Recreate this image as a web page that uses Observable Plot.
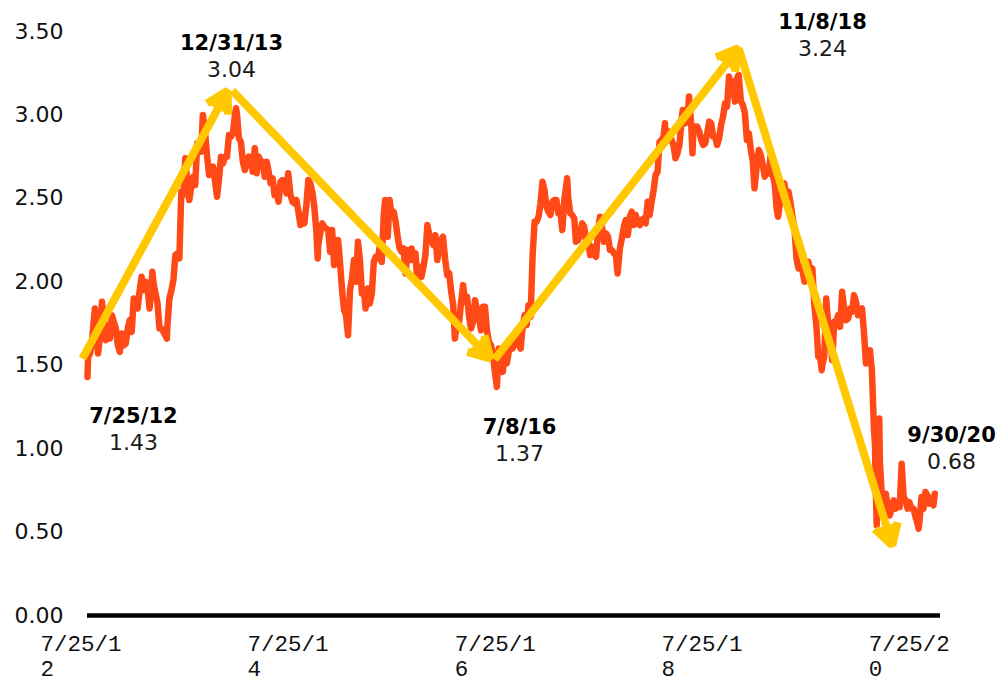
<!DOCTYPE html>
<html><head><meta charset="utf-8">
<script src="https://cdn.jsdelivr.net/npm/d3@7"></script>
<script src="https://cdn.jsdelivr.net/npm/@observablehq/plot@0.6"></script>
<style>
html,body{margin:0;padding:0;background:#fff;}
#chart svg{display:block;}
</style></head><body><div id="chart"></div>
<script>
// 10-year yield (weekly-ish, plus turning points)
const y2012 = [["2012-07-25",1.43],["2012-07-27",1.55],["2012-08-03",1.57],["2012-08-10",1.65],["2012-08-20",1.84],["2012-08-24",1.69],["2012-08-31",1.57],["2012-09-07",1.67],["2012-09-14",1.88],["2012-09-21",1.77],["2012-09-28",1.65],["2012-10-05",1.74],["2012-10-12",1.66],["2012-10-19",1.80],["2012-10-26",1.76],["2012-11-02",1.72],["2012-11-09",1.62],["2012-11-16",1.58],["2012-11-23",1.69],["2012-11-30",1.62],["2012-12-07",1.63],["2012-12-14",1.72],["2012-12-21",1.77],["2012-12-28",1.70]];
const y2013 = [["2013-01-04",1.90],["2013-01-11",1.87],["2013-01-18",1.84],["2013-01-25",1.95],["2013-02-01",2.03],["2013-02-08",1.95],["2013-02-15",2.00],["2013-02-22",1.96],["2013-03-01",1.84],["2013-03-11",2.06],["2013-03-15",1.99],["2013-03-22",1.93],["2013-03-29",1.87],["2013-04-05",1.72],["2013-04-12",1.72],["2013-04-19",1.70],["2013-05-01",1.66],["2013-05-03",1.74],["2013-05-10",1.90],["2013-05-17",1.95],["2013-05-24",2.01],["2013-05-31",2.16],["2013-06-07",2.17],["2013-06-14",2.14],["2013-06-21",2.54],["2013-06-28",2.52],["2013-07-05",2.74],["2013-07-12",2.59],["2013-07-19",2.49],["2013-07-26",2.57],["2013-08-02",2.63],["2013-08-09",2.58],["2013-08-16",2.83],["2013-08-23",2.82],["2013-08-30",2.78],["2013-09-05",3.00],["2013-09-13",2.89],["2013-09-20",2.75],["2013-09-27",2.64],["2013-10-04",2.65],["2013-10-11",2.69],["2013-10-18",2.60],["2013-10-25",2.51],["2013-11-01",2.62],["2013-11-08",2.75],["2013-11-15",2.71],["2013-11-22",2.75],["2013-11-29",2.75],["2013-12-06",2.88],["2013-12-13",2.87],["2013-12-20",2.89],["2013-12-27",3.00],["2013-12-31",3.04]];
const y2014 = [["2014-01-03",3.01],["2014-01-10",2.86],["2014-01-17",2.84],["2014-01-24",2.72],["2014-01-31",2.67],["2014-02-07",2.71],["2014-02-14",2.75],["2014-02-21",2.74],["2014-02-28",2.66],["2014-03-07",2.80],["2014-03-14",2.65],["2014-03-21",2.75],["2014-03-28",2.72],["2014-04-04",2.72],["2014-04-11",2.63],["2014-04-18",2.72],["2014-04-25",2.66],["2014-05-02",2.59],["2014-05-09",2.62],["2014-05-16",2.52],["2014-05-23",2.53],["2014-05-30",2.48],["2014-06-06",2.60],["2014-06-13",2.61],["2014-06-20",2.60],["2014-06-27",2.53],["2014-07-03",2.65],["2014-07-11",2.52],["2014-07-18",2.48],["2014-07-25",2.47],["2014-08-01",2.49],["2014-08-08",2.42],["2014-08-15",2.34],["2014-08-22",2.40],["2014-08-29",2.35],["2014-09-05",2.46],["2014-09-12",2.61],["2014-09-19",2.59],["2014-09-26",2.54],["2014-10-03",2.45],["2014-10-10",2.31],["2014-10-15",2.14],["2014-10-17",2.22],["2014-10-24",2.29],["2014-10-31",2.35],["2014-11-07",2.33],["2014-11-14",2.32],["2014-11-21",2.31],["2014-11-28",2.18],["2014-12-05",2.31],["2014-12-12",2.10],["2014-12-19",2.17],["2014-12-26",2.25]];
const y2015 = [["2015-01-02",2.11],["2015-01-09",1.95],["2015-01-16",1.83],["2015-01-23",1.80],["2015-01-30",1.68],["2015-02-06",1.95],["2015-02-13",2.02],["2015-02-20",2.13],["2015-02-27",2.00],["2015-03-06",2.24],["2015-03-13",2.13],["2015-03-20",1.93],["2015-03-27",1.95],["2015-04-02",1.84],["2015-04-10",1.96],["2015-04-17",1.87],["2015-04-24",1.93],["2015-05-01",2.12],["2015-05-08",2.15],["2015-05-15",2.14],["2015-05-22",2.21],["2015-05-29",2.12],["2015-06-05",2.40],["2015-06-10",2.49],["2015-06-12",2.39],["2015-06-19",2.27],["2015-06-26",2.49],["2015-07-02",2.40],["2015-07-10",2.42],["2015-07-17",2.36],["2015-07-24",2.27],["2015-07-31",2.20],["2015-08-07",2.18],["2015-08-14",2.20],["2015-08-21",2.05],["2015-08-28",2.19],["2015-09-04",2.13],["2015-09-11",2.20],["2015-09-18",2.13],["2015-09-25",2.17],["2015-10-02",1.99],["2015-10-09",2.09],["2015-10-16",2.03],["2015-10-23",2.09],["2015-10-30",2.16],["2015-11-06",2.34],["2015-11-13",2.28],["2015-11-20",2.26],["2015-11-27",2.22],["2015-12-04",2.28],["2015-12-11",2.13],["2015-12-18",2.20],["2015-12-24",2.25],["2015-12-31",2.27]];
const y2016 = [["2016-01-08",2.13],["2016-01-15",2.04],["2016-01-22",2.05],["2016-01-29",1.94],["2016-02-05",1.86],["2016-02-11",1.66],["2016-02-19",1.76],["2016-02-26",1.76],["2016-03-04",1.88],["2016-03-11",1.98],["2016-03-18",1.88],["2016-03-25",1.91],["2016-04-01",1.79],["2016-04-08",1.72],["2016-04-15",1.76],["2016-04-22",1.89],["2016-04-29",1.83],["2016-05-06",1.79],["2016-05-13",1.71],["2016-05-20",1.85],["2016-05-27",1.85],["2016-06-03",1.71],["2016-06-10",1.64],["2016-06-17",1.62],["2016-06-24",1.57],["2016-07-01",1.46],["2016-07-08",1.37],["2016-07-15",1.60],["2016-07-22",1.57],["2016-07-29",1.46],["2016-08-05",1.59],["2016-08-12",1.51],["2016-08-19",1.58],["2016-08-26",1.63],["2016-09-02",1.60],["2016-09-09",1.67],["2016-09-16",1.70],["2016-09-23",1.62],["2016-09-30",1.60],["2016-10-07",1.73],["2016-10-14",1.80],["2016-10-21",1.74],["2016-10-28",1.86],["2016-11-04",1.79],["2016-11-11",2.15],["2016-11-18",2.36],["2016-11-25",2.36],["2016-12-02",2.39],["2016-12-09",2.47],["2016-12-16",2.60],["2016-12-23",2.55],["2016-12-30",2.45]];
const y2017 = [["2017-01-06",2.42],["2017-01-13",2.40],["2017-01-20",2.48],["2017-01-27",2.49],["2017-02-03",2.49],["2017-02-10",2.41],["2017-02-17",2.42],["2017-02-24",2.31],["2017-03-03",2.49],["2017-03-13",2.62],["2017-03-17",2.50],["2017-03-24",2.41],["2017-03-31",2.40],["2017-04-07",2.38],["2017-04-13",2.24],["2017-04-21",2.25],["2017-04-28",2.29],["2017-05-05",2.35],["2017-05-12",2.33],["2017-05-19",2.24],["2017-05-26",2.25],["2017-06-02",2.16],["2017-06-09",2.21],["2017-06-16",2.16],["2017-06-23",2.15],["2017-06-30",2.31],["2017-07-07",2.39],["2017-07-14",2.33],["2017-07-21",2.24],["2017-07-28",2.29],["2017-08-04",2.27],["2017-08-11",2.19],["2017-08-18",2.19],["2017-08-25",2.17],["2017-09-01",2.16],["2017-09-07",2.05],["2017-09-15",2.20],["2017-09-22",2.26],["2017-09-29",2.33],["2017-10-06",2.37],["2017-10-13",2.28],["2017-10-20",2.39],["2017-10-27",2.42],["2017-11-03",2.34],["2017-11-10",2.40],["2017-11-17",2.35],["2017-11-24",2.34],["2017-12-01",2.37],["2017-12-08",2.38],["2017-12-15",2.35],["2017-12-22",2.48],["2017-12-29",2.40]];
const y2018 = [["2018-01-05",2.48],["2018-01-12",2.55],["2018-01-19",2.64],["2018-01-26",2.66],["2018-02-02",2.84],["2018-02-09",2.85],["2018-02-16",2.87],["2018-02-21",2.95],["2018-02-23",2.88],["2018-03-02",2.86],["2018-03-09",2.90],["2018-03-16",2.85],["2018-03-23",2.82],["2018-03-30",2.74],["2018-04-06",2.77],["2018-04-13",2.82],["2018-04-20",2.96],["2018-04-25",3.03],["2018-04-27",2.96],["2018-05-04",2.95],["2018-05-11",2.97],["2018-05-17",3.11],["2018-05-25",2.93],["2018-05-29",2.77],["2018-06-01",2.89],["2018-06-08",2.93],["2018-06-15",2.93],["2018-06-22",2.90],["2018-06-29",2.85],["2018-07-06",2.82],["2018-07-13",2.83],["2018-07-20",2.89],["2018-07-27",2.96],["2018-08-03",2.95],["2018-08-10",2.87],["2018-08-17",2.87],["2018-08-24",2.82],["2018-08-31",2.86],["2018-09-07",2.94],["2018-09-14",2.99],["2018-09-21",3.07],["2018-09-28",3.05],["2018-10-05",3.23],["2018-10-12",3.15],["2018-10-19",3.20],["2018-10-26",3.08],["2018-11-02",3.22],["2018-11-08",3.24],["2018-11-16",3.08],["2018-11-23",3.06],["2018-11-30",3.01],["2018-12-07",2.85],["2018-12-14",2.89],["2018-12-21",2.79],["2018-12-28",2.72]];
const y2019 = [["2019-01-03",2.56],["2019-01-11",2.70],["2019-01-18",2.79],["2019-01-25",2.76],["2019-02-01",2.70],["2019-02-08",2.63],["2019-02-15",2.66],["2019-02-22",2.65],["2019-03-01",2.76],["2019-03-08",2.64],["2019-03-15",2.59],["2019-03-22",2.44],["2019-03-27",2.39],["2019-04-05",2.50],["2019-04-12",2.56],["2019-04-18",2.59],["2019-04-26",2.50],["2019-05-03",2.54],["2019-05-10",2.47],["2019-05-17",2.39],["2019-05-24",2.32],["2019-05-31",2.14],["2019-06-07",2.08],["2019-06-14",2.09],["2019-06-21",2.07],["2019-06-28",2.00],["2019-07-05",2.04],["2019-07-12",2.12],["2019-07-19",2.05],["2019-07-26",2.08],["2019-08-02",1.86],["2019-08-09",1.74],["2019-08-16",1.55],["2019-08-23",1.54],["2019-08-28",1.47],["2019-08-30",1.50],["2019-09-06",1.55],["2019-09-13",1.90],["2019-09-20",1.74],["2019-09-27",1.69],["2019-10-04",1.53],["2019-10-11",1.76],["2019-10-18",1.76],["2019-10-25",1.80],["2019-11-01",1.73],["2019-11-08",1.94],["2019-11-15",1.84],["2019-11-22",1.77],["2019-11-29",1.78],["2019-12-06",1.84],["2019-12-13",1.82],["2019-12-20",1.92],["2019-12-27",1.88]];
const y2020 = [["2020-01-03",1.80],["2020-01-10",1.83],["2020-01-17",1.84],["2020-01-24",1.70],["2020-01-31",1.51],["2020-02-07",1.59],["2020-02-14",1.59],["2020-02-21",1.47],["2020-02-28",1.13],["2020-03-03",1.02],["2020-03-06",0.74],["2020-03-09",0.54],["2020-03-12",0.88],["2020-03-16",0.73],["2020-03-18",1.18],["2020-03-20",0.92],["2020-03-27",0.72],["2020-04-03",0.62],["2020-04-10",0.73],["2020-04-17",0.65],["2020-04-24",0.60],["2020-05-01",0.64],["2020-05-08",0.69],["2020-05-15",0.64],["2020-05-22",0.66],["2020-05-29",0.65],["2020-06-05",0.91],["2020-06-12",0.71],["2020-06-19",0.69],["2020-06-26",0.64],["2020-07-02",0.68],["2020-07-10",0.64],["2020-07-17",0.64],["2020-07-24",0.59],["2020-07-31",0.55],["2020-08-04",0.52],["2020-08-07",0.57],["2020-08-14",0.71],["2020-08-21",0.64],["2020-08-28",0.74],["2020-09-04",0.72],["2020-09-11",0.67],["2020-09-18",0.70],["2020-09-25",0.66],["2020-09-30",0.73]];

const xDomain = ["2012-07-25","2020-10-20"];
const xTickDates = ["2012-07-25","2014-07-25","2016-07-25","2018-07-25","2020-07-25"];
const xTickLabels = ["7/25/1\n2","7/25/1\n4","7/25/1\n6","7/25/1\n8","7/25/2\n0"];
const yTicks = [0,0.5,1,1.5,2,2.5,3,3.5];
const yTickLabels = ["0.00","0.50","1.00","1.50","2.00","2.50","3.00","3.50"];

// trend arrows (start date/value -> end date/value)
const arrowFromDates = ["2012-07-07","2013-12-18","2016-06-30","2018-11-08"];
const arrowFromVals  = [1.54,3.145,1.534,3.40];
const arrowToDates   = ["2013-12-01","2016-06-15","2018-11-07","2020-05-03"];
const arrowToVals    = [3.145,1.54,3.40,0.42];

// annotations
const annDates  = ["2013-01-03","2013-12-15","2016-09-26","2019-08-31","2020-11-28"];
const annLabels = ["7/25/12","12/31/13","7/8/16","11/8/18","9/30/20"];
const annValues = ["1.43","3.04","1.37","3.24","0.68"];
const annY      = [1.156,3.391,1.090,3.517,1.037];

const parse = d3.utcParse("%Y-%m-%d");
const series = [...y2012,...y2013,...y2014,...y2015,...y2016,...y2017,...y2018,...y2019,...y2020]
  .map(([d,v]) => ({date: parse(d), value: v}));
const arrows = arrowFromDates.map((d,i) => ({x1: parse(d), y1: arrowFromVals[i], x2: parse(arrowToDates[i]), y2: arrowToVals[i]}));
const anns = annDates.map((d,i) => ({date: parse(d), y: annY[i], label: annLabels[i], value: annValues[i]}));
const xLabelMap = new Map(xTickDates.map((d,i) => [+parse(d), xTickLabels[i]]));
const yLabelMap = new Map(yTicks.map((v,i) => [v, yTickLabels[i]]));

const chart = Plot.plot({
  width: 999, height: 684,
  marginLeft: 87, marginRight: 59, marginTop: 31, marginBottom: 69,
  x: {type: "utc", domain: xDomain.map(parse)},
  y: {domain: [0, 3.5]},
  style: {fontFamily: "DejaVu Sans", background: "#fff", color: "#000", overflow: "visible"},
  marks: [
    Plot.axisY(yTicks, {tickSize: 0, tickPadding: 24, fontSize: 22, fill: "#111", tickFormat: v => yLabelMap.get(v)}),
    Plot.axisX(xTickDates.map(parse), {tickSize: 0, tickPadding: 18, fontSize: 22.5, fontFamily: "Liberation Mono", fill: "#111",
      textAnchor: "start", dx: -47, lineHeight: 1.1, tickFormat: d => xLabelMap.get(+d)}),
    Plot.ruleY([0], {stroke: "#000", strokeWidth: 4.5}),
    Plot.line(series, {x: "date", y: "value", stroke: "#FF4A17", strokeWidth: 6.5, strokeLinejoin: "round", curve: "linear"}),
    Plot.arrow(arrows, {x1: "x1", y1: "y1", x2: "x2", y2: "y2", stroke: "#FFC800", fill: "#FFC800",
      strokeWidth: 8, headLength: 4.5, headAngle: 60, strokeLinecap: "butt"}),
    Plot.text(anns, {x: "date", y: "y", text: "label", fontWeight: "bold", fontSize: 21, fill: "#000", lineAnchor: "bottom"}),
    Plot.text(anns, {x: "date", y: "y", text: "value", fontSize: 22, fill: "#1a1a1a", lineAnchor: "bottom", dy: 27})
  ]
});
document.getElementById("chart").append(chart);
</script></body></html>
